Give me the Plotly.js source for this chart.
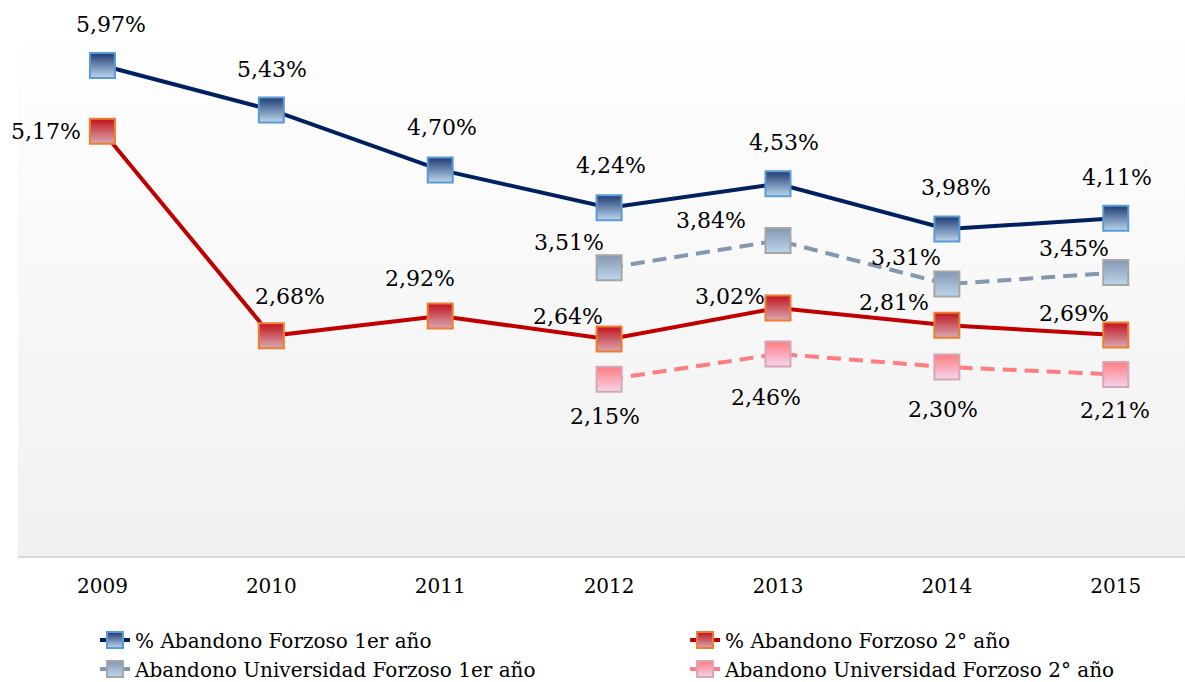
<!DOCTYPE html>
<html>
<head>
<meta charset="utf-8">
<script src="https://cdn.plot.ly/plotly-3.0.1.min.js"></script>
<style>html,body{margin:0;padding:0;background:#fff}#chart{width:1185px;height:682px}</style>
</head>
<body>
<div id="chart"></div>
<script>
const years = ['2009','2010','2011','2012','2013','2014','2015'];
const forzoso1 = [5.97, 5.43, 4.70, 4.24, 4.53, 3.98, 4.11];
const forzoso2 = [5.17, 2.68, 2.92, 2.64, 3.02, 2.81, 2.69];
const univ1 = [null, null, null, 3.51, 3.84, 3.31, 3.45];
const univ2 = [null, null, null, 2.15, 2.46, 2.30, 2.21];
const names = ['% Abandono Forzoso 1er año', '% Abandono Forzoso 2° año',
               'Abandono Universidad Forzoso 1er año', 'Abandono Universidad Forzoso 2° año'];

// label offsets (pixels) per point — styling only
const off1 = [[9,-41],[1,-40],[2,-42],[2,-42],[6,-41],[9,-42],[1,-41]];
const off2 = [[-56,0],[19,-39],[-20,-38],[-41,-23],[-48,-11],[-53,-23],[-42,-22]];
const off3 = [null,null,null,[-40,-25],[-67,-20],[-41,-27],[-42,-24]];
const off4 = [null,null,null,[-4,37],[-12,44],[-4,42],[-1,36]];

const FONT = 'DejaVu Serif, serif';
const fmt = v => v.toFixed(2).replace('.', ',') + '%';

function tr(y, name, lineColor, dash, top, bottom, border, legend) {
  return {
    x: years, y: y, name: name, type: 'scatter', mode: 'lines+markers',
    line: {color: lineColor, width: 4, dash: dash},
    marker: {symbol: 'square', size: 25, color: top,
             gradient: {type: 'vertical', color: bottom},
             line: {color: border, width: 2}},
    cliponaxis: false, hoverinfo: 'skip', connectgaps: false, legend: legend
  };
}

const traces = [
  tr(forzoso1, names[0], '#002060', 'solid', '#1f3a72', '#bdd7ee', '#5b9bd5', 'legend'),
  tr(forzoso2, names[1], '#c00000', 'solid', '#c0121b', '#d8aab4', '#ed7d31', 'legend2'),
  tr(univ1, names[2], '#8497b0', '14px,8px', '#8497b0', '#bdd7ee', '#a6a6a6', 'legend'),
  tr(univ2, names[3], '#ff7c80', '14px,8px', '#ff7c80', '#f4d4ec', '#d5a6b5', 'legend2')
];

// drop lines from axis to highest value per year (category index positions)
const shapes = years.map((yr, i) => {
  const m = Math.max(...[forzoso1[i], forzoso2[i], univ1[i], univ2[i]].filter(v => v !== null));
  return {type: 'line', xref: 'x', yref: 'y', x0: i, x1: i, y0: 0, y1: m,
          line: {color: '#d9d9d9', width: 1.5}, layer: 'below'};
});

const annotations = [];
[[forzoso1, off1], [forzoso2, off2], [univ1, off3], [univ2, off4]].forEach(([s, off]) => {
  s.forEach((v, i) => {
    if (v === null) return;
    annotations.push({x: i, y: v, xref: 'x', yref: 'y', text: fmt(v),
      showarrow: false, xshift: off[i][0], yshift: -off[i][1],
      font: {family: FONT, size: 22, color: '#000'}});
  });
});

const svg = '<svg xmlns="http://www.w3.org/2000/svg" width="10" height="100" preserveAspectRatio="none">' +
  '<defs><linearGradient id="g" x1="0" y1="0" x2="0" y2="1">' +
  '<stop offset="0" stop-color="#ffffff"/><stop offset="1" stop-color="#f0f0f0"/></linearGradient></defs>' +
  '<rect width="10" height="100" fill="url(#g)"/></svg>';

const legendFont = {family: FONT, size: 20, color: '#000'};

const layout = {
  width: 1185, height: 682,
  margin: {l: 18, r: 0, t: 22, b: 0, autoexpand: false},
  paper_bgcolor: '#ffffff', plot_bgcolor: 'rgba(0,0,0,0)',
  showlegend: true,
  images: [{source: 'data:image/svg+xml;charset=utf-8,' + encodeURIComponent(svg),
            xref: 'x domain', yref: 'y domain', x: 0, y: 1, sizex: 1, sizey: 1,
            sizing: 'stretch', xanchor: 'left', yanchor: 'top', layer: 'below'}],
  xaxis: {type: 'category', range: [-0.5, 6.41], showgrid: false, zeroline: false,
          showline: true, linecolor: '#d9d9d9', linewidth: 2, ticks: '',
          ticklabelstandoff: 11,
          tickfont: {family: FONT, size: 20, color: '#000'}, fixedrange: true},
  yaxis: {range: [0, 6.5], domain: [0.1909, 1], visible: false, showgrid: false,
          zeroline: false, fixedrange: true},
  legend: {orientation: 'v', x: 0.066, xanchor: 'left', y: 0.093, yanchor: 'top',
           traceorder: 'normal', font: legendFont, bgcolor: 'rgba(0,0,0,0)'},
  legend2: {orientation: 'v', x: 0.5716, xanchor: 'left', y: 0.093, yanchor: 'top',
           traceorder: 'normal', font: legendFont, bgcolor: 'rgba(0,0,0,0)'},
  shapes: shapes,
  annotations: annotations
};

Plotly.newPlot('chart', traces, layout, {displayModeBar: false, staticPlot: true});
</script>
</body>
</html>
